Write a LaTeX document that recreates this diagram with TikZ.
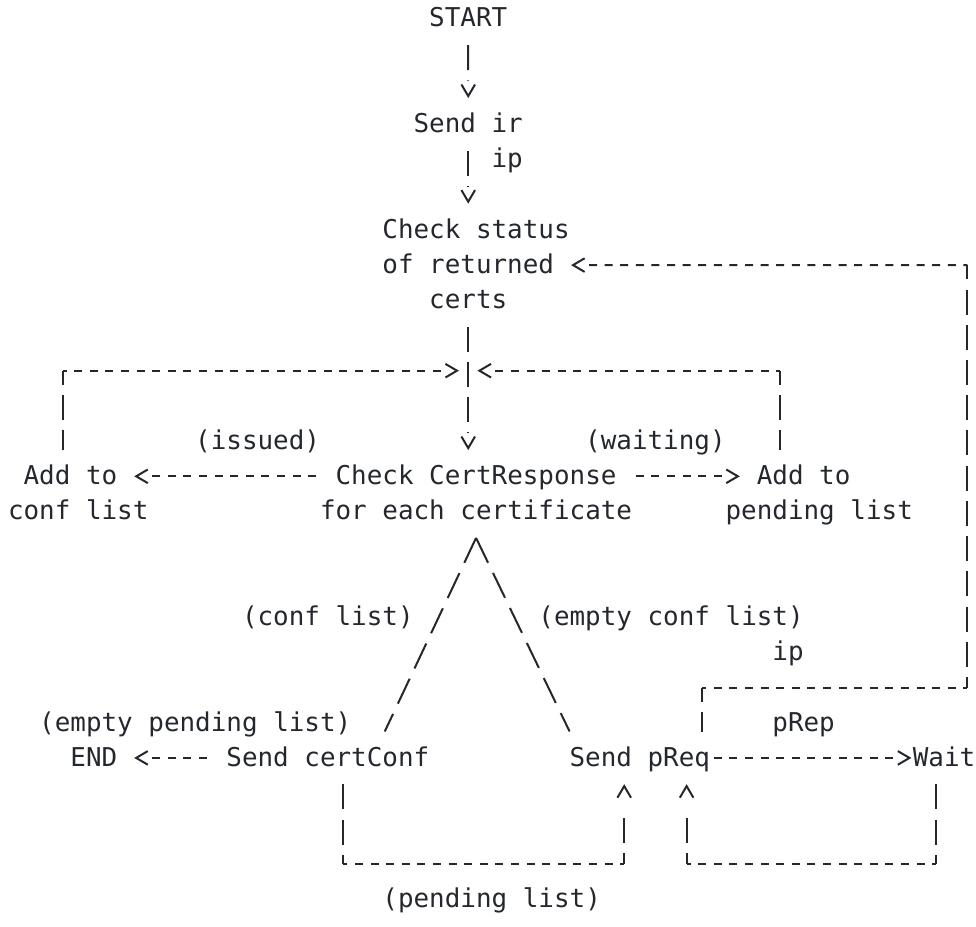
\documentclass[tikz,border=0pt]{standalone}
\usepackage{fontspec}
\setmonofont{DejaVu Sans Mono}
\definecolor{ink}{RGB}{36,40,46}

% open chevron tip, like the v > < ^ of the plain-text figure
\pgfdeclarearrow{
  name = chev,
  setup code = {
    \pgfarrowssettipend{0pt}
    \pgfarrowssetlineend{-8.5pt}
    \pgfarrowssetbackend{-6.7pt}
    \pgfarrowshullpoint{0pt}{0pt}
    \pgfarrowshullpoint{-6.7pt}{3.4pt}
    \pgfarrowshullpoint{-6.7pt}{-3.4pt}
  },
  drawing code = {
    \pgfsetdash{}{0pt}
    \pgfsetmiterjoin
    \pgfpathmoveto{\pgfqpoint{-6.7pt}{3.4pt}}
    \pgfpathlineto{\pgfqpoint{-0.9pt}{0pt}}
    \pgfpathlineto{\pgfqpoint{-6.7pt}{-3.4pt}}
    \pgfusepathqstroke
  }
}

\begin{document}
\begin{tikzpicture}[
    x=7.8pt, y=-17.6pt,
    txt/.style={font=\ttfamily\fontsize{12.96pt}{17.6pt}\selectfont, text=ink,
        anchor=base west, inner sep=0pt, outer xsep=0pt, outer ysep=7.5pt,
        text height=9.85pt, text depth=1.55pt},
    vline/.style={draw=ink, line width=1pt, dash pattern=on 12.5pt off 5.1pt},
    upline/.style={draw=ink, line width=1pt, dash pattern=on 5.3pt off 5.1pt on 12.5pt off 30pt},
    hline/.style={draw=ink, line width=1pt, dash pattern=on 4pt off 3.8pt},
    dline/.style={draw=ink, line width=1pt, dash pattern=on 13.8pt off 5.66pt},
]
\useasboundingbox (-0.513,-0.767) rectangle (62.05,25.54);

% --- Steps (column, line of the character grid) ---
\node[txt] (start)    at (27,0)  {START};
\node[txt] (sendir)   at (26,3)  {Send ir};
\node[txt] (check)    at (24,6)  {Check status};
\node[txt] (checkb)   at (24,7)  {of returned};
\node[txt] (checkc)   at (27,8)  {certs};
\node[txt] (addconf)  at (1,13)  {Add to};
\node[txt] (cr)       at (21,13) {Check CertResponse};
\node[txt] (addpend)  at (48,13) {Add to};
\node[txt] (addconfb) at (0,14)  {conf list};
\node[txt] (crb)      at (20,14) {for each certificate};
\node[txt] (addpendb) at (46,14) {pending list};
\node[txt] (fin)      at (4,21)  {END};
\node[txt] (certconf) at (14,21) {Send certConf};
\node[txt] (preq)     at (36,21) {Send pReq};
\node[txt] (wait)     at (58,21) {Wait};

% --- Labels ---
\node[txt] (lipa)    at (31,4)  {ip};
\node[txt] (lissued) at (12,12) {(issued)};
\node[txt] (lwait)   at (37,12) {(waiting)};
\node[txt] (lconf)   at (15,17) {(conf list)};
\node[txt] (lnoconf) at (34,17) {(empty conf list)};
\node[txt] (lipb)    at (49,18) {ip};
\node[txt] (lnopend) at (2,20)  {(empty pending list)};
\node[txt] (lprep)   at (49,20) {pRep};
\node[txt] (lpend)   at (24,25) {(pending list)};

% --- Corners ---
\coordinate (join) at (29.5,9.764);
\coordinate (cA) at (3.5,9.764);
\coordinate (cB) at (49.5,9.764);
\coordinate (cT) at (61.5,6.764);
\coordinate (cQ) at (44.5,18.764);
\coordinate (cS) at (61.5,18.764);
\coordinate (cL) at (21.5,23.764);
\coordinate (cR) at (39.5,23.764);
\coordinate (cP) at (43.5,23.764);
\coordinate (cW) at (59.5,23.764);

% --- Trunk ---
\draw[vline, -chev] (start) -- (sendir);
\draw[vline, -chev] (sendir) -- (sendir |- check.north);
\draw[vline, -chev] (checkc) -- (checkc |- cr.north);

% --- Back into the trunk ---
\draw[vline, dash phase=5.3pt] (cA) -- (cA |- addconf.north);
\draw[hline, dash phase=2pt, -chev, shorten >=4.7pt] (cA) -- (join);
\draw[vline, dash phase=5.3pt] (cB) -- (cB |- addpend.north);
\draw[hline, dash phase=2pt, -chev, shorten >=4.7pt] (cB) -- (join);

% --- Check CertResponse ---
\draw[hline, -chev, shorten <=9.67pt, shorten >=8.58pt] (cr) -- (addconf);
\draw[hline, -chev, shorten <=9.67pt, shorten >=8.58pt] (cr) -- (addpend);
\draw[dline] (crb.south) -- (certconf.north -| 24.15,0);
\draw[dline] (crb.south) -- (preq.north west);

% --- Send certConf / Send pReq ---
\draw[hline, -chev, shorten <=9.67pt, shorten >=8.58pt] (certconf) -- (fin);
\draw[hline, -chev, shorten <=1.87pt, shorten >=0.78pt] (preq) -- (wait);

% pending list: back to Send pReq
\draw[vline] (cL |- certconf.south) -- (cL);
\draw[hline, dash phase=2pt] (cL) -- (cR);
\draw[upline, -chev] (cR) -- (cR |- preq.south);

% pRep: Wait back to Send pReq
\draw[vline] (cW |- wait.south) -- (cW);
\draw[hline, dash phase=2pt] (cW) -- (cP);
\draw[upline, -chev] (cP) -- (cP |- preq.south);

% ip: back to the status check
\draw[vline, dash phase=5.3pt] (cQ) -- (cQ |- preq.north);
\draw[hline, dash phase=2pt] (cQ) -- (cS);
\draw[vline, dash phase=5.3pt] (cT) -- (cS);
\draw[hline, dash phase=2pt, -chev, shorten >=8.58pt] (cT) -- (checkb);

\end{tikzpicture}
\end{document}
